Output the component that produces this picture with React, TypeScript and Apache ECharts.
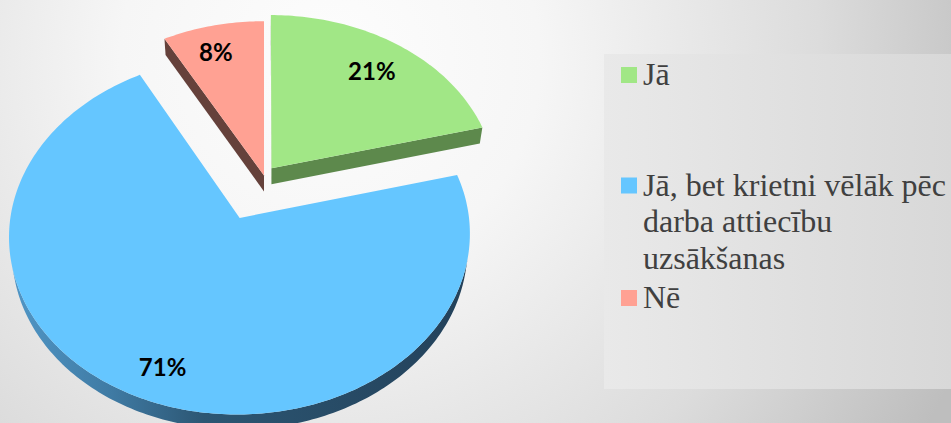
import React, { useEffect, useRef } from 'react';
import * as echarts from 'echarts';

// ---- data ----
const categories = ['Jā', 'Jā, bet krietni vēlāk pēc darba attiecību uzsākšanas', 'Nē'];
const values = [21, 71, 8];
const legendLines = [['Jā'], ['Jā, bet krietni vēlāk pēc', 'darba attiecību', 'uzsākšanas'], ['Nē']];

// ---- styles ----
const topColors = ['#A1E786', '#65C6FF', '#FFA193'];
const wallColors: any[] = [
  '#5D894C',
  {
    type: 'linear', x: 0, y: 0, x2: 1, y2: 0,
    colorStops: [
      { offset: 0, color: '#5096C6' },
      { offset: 0.22, color: '#3F7AA3' },
      { offset: 0.42, color: '#2C5673' },
      { offset: 1, color: '#23415A' },
    ],
  },
  '#65413B',
];
const explode = [0.055, 0.267, 0];
const labelRadius = [0.78, 0.83, 0.82];
const labelAngleShift = [0, -2, -2];
const legendItemY = [75, 185.5, 298];
const legendLineGap = 36.5;

// ---- projection (3D tilted pie) ----
const SIN = 0.755;
const COS = Math.sqrt(1 - SIN * SIN);
const DIST = 6.85;
const FOC = 1534;
const CX = 264;
const CY = 175.5;
const THICK = 0.11;
const CAM = [0, DIST * SIN, -DIST * COS];
const rad = (d: number) => (d * Math.PI) / 180;
function proj(X: number, Y: number, Z: number): number[] {
  const yc = Y * COS + Z * SIN;
  const zc = DIST - Y * SIN + Z * COS;
  return [CX + (FOC * X) / zc, CY - (FOC * yc) / zc];
}

const total = values.reduce((a, b) => a + b, 0);
const cumBefore = values.map((_, i) => values.slice(0, i).reduce((a, b) => a + b, 0));
const depthKey = values.map((v, i) => {
  const mid = ((cumBefore[i] + v / 2) / total) * 360;
  return explode[i] * Math.cos(rad(mid)) + 0.6 * Math.cos(rad(mid));
});
const depthRank = values.map((_, i) => depthKey.filter((k) => k > depthKey[i]).length);

export default function App() {
  const ref = useRef<HTMLDivElement>(null);
  useEffect(() => {
    document.body.style.margin = '0';
    const chart = echarts.init(ref.current!, null, { renderer: 'svg' });

    const graphics: any[] = [
      {
        type: 'rect', z: -10, silent: true,
        shape: { x: 0, y: 0, width: 951, height: 423 },
        style: {
          fill: {
            type: 'radial', x: 330, y: 60, r: 700, global: true,
            colorStops: [
              { offset: 0, color: '#FDFDFD' },
              { offset: 0.3, color: '#F6F6F6' },
              { offset: 0.7, color: '#DCDCDC' },
              { offset: 1, color: '#BEBEBE' },
            ],
          },
        },
      },
      {
        type: 'rect', z: -9, silent: true,
        shape: { x: 604, y: 54, width: 347, height: 335 },
        style: {
          fill: {
            type: 'linear', x: 0, y: 0, x2: 1, y2: 0,
            colorStops: [
              { offset: 0, color: '#E9E9E9' },
              { offset: 1, color: '#D8D8D8' },
            ],
          },
        },
      },
    ];
    categories.forEach((_, i) => {
      graphics.push({
        type: 'rect', z: 10,
        shape: { x: 621, y: legendItemY[i] - 8, width: 16, height: 16 },
        style: { fill: topColors[i] },
      });
      legendLines[i].forEach((line, j) => {
        graphics.push({
          type: 'text', z: 10,
          x: 643, y: legendItemY[i] - 1 + j * legendLineGap,
          style: {
            text: line,
            fontFamily: 'Liberation Serif',
            fontSize: 32,
            fill: '#404040',
            align: 'left',
            verticalAlign: 'middle',
          },
        });
      });
    });

    chart.setOption({
      animation: false,
      graphic: graphics,
      series: [
        {
          type: 'custom',
          coordinateSystem: 'none',
          silent: true,
          data: values.map((v, i) => ({ name: categories[i], value: [v, cumBefore[i]] })),
          renderItem: (params: any, api: any) => {
            const i = params.dataIndex;
            const v = api.value(0);
            const before = api.value(1);
            const a0 = (before / total) * 360;
            const a1 = ((before + v) / total) * 360;
            const mid = (a0 + a1) / 2;
            const ox = explode[i] * Math.sin(rad(mid));
            const oz = explode[i] * Math.cos(rad(mid));
            const base = depthRank[i] * 10;
            const steps = Math.max(2, Math.ceil(a1 - a0));
            const angles: number[] = [];
            for (let k = 0; k <= steps; k++) angles.push(a0 + ((a1 - a0) * k) / steps);
            const children: any[] = [];

            // curved outer wall (front-facing runs only)
            let run: number[] = [];
            const flush = () => {
              if (run.length >= 2) {
                const topPts = run.map((t) => proj(ox + Math.sin(rad(t)), 0, oz + Math.cos(rad(t))));
                const botPts = run
                  .map((t) => proj(ox + Math.sin(rad(t)), -THICK, oz + Math.cos(rad(t))))
                  .reverse();
                children.push({
                  type: 'polygon', z2: base,
                  shape: { points: topPts.concat(botPts) },
                  style: { fill: wallColors[i] },
                });
              }
              run = [];
            };
            angles.forEach((t) => {
              const s = Math.sin(rad(t));
              const c = Math.cos(rad(t));
              const px = ox + s;
              const pz = oz + c;
              const dot = s * (CAM[0] - px) + c * (CAM[2] - pz);
              if (dot > 0) run.push(t);
              else flush();
            });
            flush();

            // radial walls
            [
              [a0, -90],
              [a1, 90],
            ].forEach(([edge, sgn]) => {
              const n = edge + sgn;
              const px = ox + 0.5 * Math.sin(rad(edge));
              const pz = oz + 0.5 * Math.cos(rad(edge));
              const dot = Math.sin(rad(n)) * (CAM[0] - px) + Math.cos(rad(n)) * (CAM[2] - pz);
              if (dot > 0) {
                const rx = ox + Math.sin(rad(edge));
                const rz = oz + Math.cos(rad(edge));
                children.push({
                  type: 'polygon', z2: base + 1,
                  shape: {
                    points: [proj(ox, 0, oz), proj(rx, 0, rz), proj(rx, -THICK, rz), proj(ox, -THICK, oz)],
                  },
                  style: { fill: typeof wallColors[i] === 'string' ? wallColors[i] : '#2E5C7B' },
                });
              }
            });

            // top face
            const topFace = [proj(ox, 0, oz)].concat(
              angles.map((t) => proj(ox + Math.sin(rad(t)), 0, oz + Math.cos(rad(t))))
            );
            children.push({
              type: 'polygon', z2: base + 2,
              shape: { points: topFace },
              style: { fill: topColors[i] },
            });

            // label
            const lr = labelRadius[i];
            const la = mid + labelAngleShift[i];
            const lp = proj(ox + lr * Math.sin(rad(la)), 0, oz + lr * Math.cos(rad(la)));
            children.push({
              type: 'text', z2: 100,
              x: lp[0], y: lp[1],
              style: {
                text: Math.round((v / total) * 100) + '%',
                fontFamily: 'Lato',
                fontWeight: 'bold',
                fontSize: 24,
                fill: '#000000',
                align: 'center',
                verticalAlign: 'middle',
              },
            });
            return { type: 'group', children };
          },
        },
      ],
    });
    return () => chart.dispose();
  }, []);
  return <div ref={ref} style={{ width: 951, height: 423 }} />;
}
